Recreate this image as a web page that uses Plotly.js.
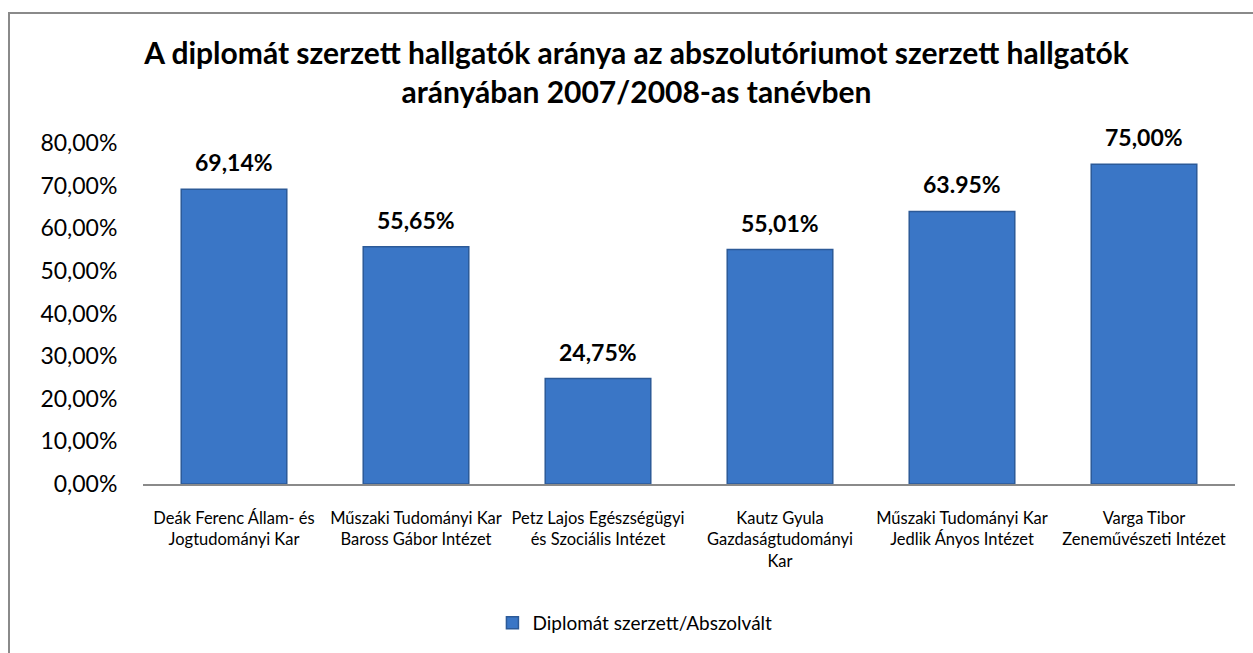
<!DOCTYPE html>
<html>
<head>
<meta charset="utf-8">
<script src="https://cdn.plot.ly/plotly-3.0.1.min.js"></script>
<style>
  html, body { margin: 0; padding: 0; background: #fff; overflow: hidden; }
  #frame { position: absolute; left: 8px; top: 12px; width: 1300px; height: 700px; border: 2px solid #8a8a8a; box-sizing: border-box; }
  #chart { position: absolute; left: 0; top: 0; width: 1253px; height: 653px; }
</style>
</head>
<body>
<div id="frame"></div>
<div id="chart"></div>
<script>
const categories = [
  "Deák Ferenc Állam- és<br>Jogtudományi Kar",
  "Műszaki Tudományi Kar<br>Baross Gábor Intézet",
  "Petz Lajos Egészségügyi<br>és Szociális Intézet",
  "Kautz Gyula<br>Gazdaságtudományi<br>Kar",
  "Műszaki Tudományi Kar<br>Jedlik Ányos Intézet",
  "Varga Tibor<br>Zeneművészeti Intézet"
];
const values = [0.6914, 0.5565, 0.2475, 0.5501, 0.6395, 0.75];
const dataLabels = ["69,14%", "55,65%", "24,75%", "55,01%", "63.95%", "75,00%"];
const tickVals = [0, 0.1, 0.2, 0.3, 0.4, 0.5, 0.6, 0.7, 0.8];
const seriesName = "Diplomát szerzett/Abszolvált";
const titleText = "A diplomát szerzett hallgatók aránya az abszolutóriumot szerzett hallgatók<br>arányában 2007/2008-as tanévben";

const FONT = "Lato, 'Open Sans', sans-serif";

const trace = {
  type: "bar",
  x: categories,
  y: values,
  name: seriesName,
  marker: { color: "#3a76c6", line: { color: "#2c5a98", width: 1.5 } },
  hoverinfo: "skip",
  showlegend: true
};

const annotations = categories.map((c, i) => ({
  x: c, y: values[i], xref: "x", yref: "y",
  text: "<b>" + dataLabels[i] + "</b>",
  showarrow: false, yanchor: "bottom", yshift: 11,
  font: { family: FONT, size: 23, color: "#000" }
}));

const layout = {
  width: 1253, height: 653,
  paper_bgcolor: "rgba(0,0,0,0)",
  plot_bgcolor: "rgba(0,0,0,0)",
  separators: ", ",
  margin: { l: 143, r: 18, t: 143, b: 169 },
  font: { family: FONT, color: "#000" },
  title: {
    text: "<b>" + titleText + "</b>",
    font: { family: FONT, size: 30, color: "#000" },
    x: 0.508, xref: "container", xanchor: "center",
    y: 0.902, yref: "container", yanchor: "top"
  },
  bargap: 0.42,
  xaxis: {
    type: "category",
    showline: true, linecolor: "#8a8a8a", linewidth: 2,
    showgrid: false, zeroline: false,
    ticks: "outside", ticklen: 18, tickcolor: "rgba(0,0,0,0)",
    tickfont: { family: FONT, size: 16.5, color: "#000" },
    tickangle: 0
  },
  yaxis: {
    range: [0, 0.8],
    tickvals: tickVals,
    tickformat: ".2%",
    showline: false, showgrid: false, zeroline: false,
    ticks: "outside", ticklen: 20, tickcolor: "rgba(0,0,0,0)",
    tickfont: { family: FONT, size: 23, color: "#000" }
  },
  showlegend: true,
  legend: {
    orientation: "h",
    xref: "container", yref: "container",
    x: 0.393, xanchor: "left",
    y: 0.046, yanchor: "middle",
    font: { family: FONT, size: 19, color: "#000" },
    itemwidth: 30
  },
  annotations: annotations
};

Plotly.newPlot("chart", [trace], layout, { displayModeBar: false, staticPlot: true });
</script>
</body>
</html>
